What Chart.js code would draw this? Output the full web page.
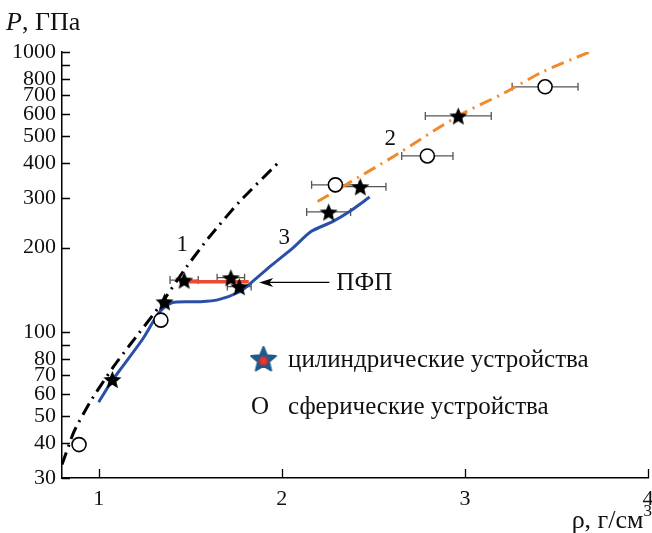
<!DOCTYPE html>
<html lang="ru">
<head>
<meta charset="UTF-8">
<title>P(ρ)</title>
<script src="https://cdn.jsdelivr.net/npm/chart.js"></script>
<style>
  html, body { margin: 0; padding: 0; background: #fff; }
  #wrap { width: 652px; height: 533px; }
</style>
</head>
<body>
<div id="wrap"><canvas id="chart" width="652" height="533"></canvas></div>
<script>
// кривая 1 (чёрная штрихпунктирная)
const curve1X = [0.8, 0.866, 0.948, 1.003, 1.085, 1.167, 1.331, 1.467, 1.604, 1.768, 1.986];
const curve1P = [33.5, 44, 55.3, 63, 75.6, 89.1, 123, 166, 218, 291, 405];
// кривая 2 (оранжевая штрихпунктирная)
const curve2X = [2.196, 2.332, 2.615, 2.964, 3.216, 3.423, 3.68];
const curve2P = [292, 330, 425, 591, 714, 848, 1000];
// кривая 3 (синяя)
const curve3X = [1.0, 1.075, 1.24, 1.33, 1.40, 1.55, 1.65, 1.77, 1.84, 1.95, 2.06, 2.16, 2.28, 2.37, 2.48];
const curve3P = [56, 67, 94, 117, 127, 128, 130, 139, 151, 174, 199, 228, 248, 269, 303];
// ПФП
const pfpX = [1.44, 1.82];
const pfpP = [151, 151];
// цилиндрические устройства
const starX = [1.075, 1.36, 1.467, 1.722, 1.768, 2.256, 2.429, 2.964];
const starP = [67.5, 128, 153, 156, 145, 268, 330, 591];
const starErr = [0, 0, 0.077, 0.075, 0.065, 0.12, 0.14, 0.18];
// сферические устройства
const circX = [0.893, 1.34, 2.293, 2.795, 3.438];
const circP = [39.5, 110, 335, 425, 751];
const circErr = [0, 0, 0.13, 0.14, 0.18];
// оси
const xTicks = [1, 2, 3, 4];
const yTicks = [30, 40, 50, 60, 70, 80, 90, 100, 200, 300, 400, 500, 600, 700, 800, 900, 1000];
const yHidden = [90, 900];

const FONT = '"Liberation Serif", "Times New Roman", serif';

function pts(xs, ps) { return xs.map((v, i) => ({ x: v, y: ps[i] })); }

function makeStar(size, fill, center) {
    const c = document.createElement('canvas');
    c.width = size; c.height = size;
    const g = c.getContext('2d');
    const R = size / 2 - 1, r = R * 0.45, m = size / 2;
    g.beginPath();
    for (let i = 0; i < 10; i++) {
        const a = -Math.PI / 2 + i * Math.PI / 5;
        const rad = i % 2 === 0 ? R : r;
        g.lineTo(m + rad * Math.cos(a), m + 1 + rad * Math.sin(a));
    }
    g.closePath();
    g.fillStyle = fill;
    g.lineJoin = 'round';
    if (center) { g.strokeStyle = fill; g.lineWidth = 2; g.stroke(); }
    g.fill();
    if (center) {
        const gr = g.createRadialGradient(m, m + 2, 0, m, m + 2, 6);
        gr.addColorStop(0, '#ff3b30');
        gr.addColorStop(0.5, '#e8302a');
        gr.addColorStop(1, 'rgba(200,40,60,0)');
        g.fillStyle = gr;
        g.beginPath(); g.arc(m, m + 2, 6, 0, Math.PI * 2); g.fill();
    }
    return c;
}
const blackStar = makeStar(21, '#000');
const legendStar = makeStar(28, '#1d5b8a', true);

const errorBars = {
    id: 'errorBars',
    beforeDatasetsDraw(chart) {
        const { ctx, scales: { x, y } } = chart;
        ctx.save();
        ctx.strokeStyle = '#555';
        ctx.lineWidth = 1.3;
        const draw = (xs, ps, es) => {
            xs.forEach((v, i) => {
                if (!es[i]) return;
                const x0 = x.getPixelForValue(v - es[i]);
                const x1 = x.getPixelForValue(v + es[i]);
                const py = y.getPixelForValue(ps[i]);
                ctx.beginPath();
                ctx.moveTo(x0, py); ctx.lineTo(x1, py);
                ctx.moveTo(x0, py - 4); ctx.lineTo(x0, py + 4);
                ctx.moveTo(x1, py - 4); ctx.lineTo(x1, py + 4);
                ctx.stroke();
            });
        };
        draw(starX, starP, starErr);
        draw(circX, circP, circErr);
        ctx.restore();
    }
};

const annotations = {
    id: 'annotations',
    afterDraw(chart) {
        const { ctx, chartArea: a, scales: { x, y } } = chart;
        ctx.save();
        // засечки внутрь
        ctx.strokeStyle = '#000';
        ctx.lineWidth = 1.3;
        ctx.beginPath();
        yTicks.forEach(v => {
            const py = Math.round(y.getPixelForValue(v)) + 0.5;
            ctx.moveTo(a.left, py); ctx.lineTo(a.left + 8, py);
        });
        xTicks.forEach(v => {
            const px = Math.round(x.getPixelForValue(v)) + 0.5;
            ctx.moveTo(px, a.bottom); ctx.lineTo(px, a.bottom - 9);
        });
        ctx.stroke();

        ctx.fillStyle = '#111';
        ctx.textBaseline = 'alphabetic';
        // подпись оси Y
        ctx.textAlign = 'left';
        ctx.font = 'italic 26px ' + FONT;
        ctx.fillText('P', 6, 30);
        const wP = ctx.measureText('P').width;
        ctx.font = '26px ' + FONT;
        ctx.fillText(', ГПа', 6 + wP, 30);
        // подпись оси X
        ctx.font = '17px ' + FONT;
        const w3 = ctx.measureText('3').width;
        ctx.fillText('3', 652 - w3, 516);
        ctx.font = '26px ' + FONT;
        ctx.textAlign = 'right';
        ctx.fillText('ρ, г/см', 652 - w3, 528);

        // номера кривых
        ctx.font = '23px ' + FONT;
        ctx.textAlign = 'center';
        ctx.textBaseline = 'middle';
        ctx.fillText('1', x.getPixelForValue(1.456), y.getPixelForValue(204));
        ctx.fillText('2', x.getPixelForValue(2.593), y.getPixelForValue(490));
        ctx.fillText('3', x.getPixelForValue(2.013), y.getPixelForValue(216));

        // ПФП со стрелкой
        const ay = y.getPixelForValue(150);
        const ax0 = x.getPixelForValue(1.877), ax1 = x.getPixelForValue(2.26);
        ctx.strokeStyle = '#000';
        ctx.lineWidth = 1.2;
        ctx.beginPath(); ctx.moveTo(ax0 + 8, ay); ctx.lineTo(ax1, ay); ctx.stroke();
        ctx.fillStyle = '#000';
        ctx.beginPath();
        ctx.moveTo(ax0, ay); ctx.lineTo(ax0 + 14, ay - 4.5); ctx.lineTo(ax0 + 10, ay); ctx.lineTo(ax0 + 14, ay + 4.5);
        ctx.closePath(); ctx.fill();
        ctx.fillStyle = '#111';
        ctx.textAlign = 'left';
        ctx.font = '25px ' + FONT;
        ctx.fillText('ПФП', ax1 + 7, ay + 1);

        // легенда
        ctx.drawImage(legendStar, a.left + 201.5 - 14, a.top + 308 - 15);
        ctx.fillText('цилиндрические устройства', a.left + 226, a.top + 308);
        ctx.textAlign = 'center';
        ctx.fillText('O', a.left + 198, a.top + 355);
        ctx.textAlign = 'left';
        ctx.fillText('сферические устройства', a.left + 226, a.top + 355);
        ctx.restore();
    }
};

new Chart(document.getElementById('chart'), {
    type: 'scatter',
    data: {
        datasets: [
            {
                data: pts(curve1X, curve1P), showLine: true, pointRadius: 0,
                borderColor: '#000', borderWidth: 3, borderDash: [13, 6, 2, 6], tension: 0.2, order: 5
            },
            {
                data: pts(curve2X, curve2P), showLine: true, pointRadius: 0,
                borderColor: '#f18a2c', borderWidth: 3, borderDash: [13, 6, 2, 6], tension: 0.3, order: 5
            },
            {
                data: pts(curve3X, curve3P), showLine: true, pointRadius: 0,
                borderColor: '#2a4fa8', borderWidth: 3, tension: 0.25, order: 4
            },
            {
                data: pts(pfpX, pfpP), showLine: true, pointRadius: 0,
                borderColor: '#ec4a33', borderWidth: 3.5, order: 3
            },
            {
                data: pts(circX, circP), pointStyle: 'circle', pointRadius: 7,
                backgroundColor: '#fff', borderColor: '#000', borderWidth: 1.6, order: 2
            },
            {
                data: pts(starX, starP), pointStyle: blackStar, order: 1
            }
        ]
    },
    options: {
        responsive: false,
        animation: false,
        events: [],
        layout: { autoPadding: false, padding: { top: 52, right: 4, left: 0, bottom: 0 } },
        plugins: { legend: { display: false }, tooltip: { enabled: false } },
        scales: {
            x: {
                type: 'linear', min: 0.8, max: 4,
                afterBuildTicks: s => { s.ticks = xTicks.map(v => ({ value: v })); },
                afterFit: s => { s.height = 55; s.paddingLeft = 0; s.paddingRight = 0; },
                grid: { display: false, drawTicks: false },
                border: { display: true, color: '#000', width: 1.5 },
                ticks: { font: { family: FONT, size: 22 }, color: '#111', padding: 8, maxRotation: 0 }
            },
            y: {
                type: 'logarithmic', min: 30, max: 1000,
                afterBuildTicks: s => { s.ticks = yTicks.map(v => ({ value: v })); },
                afterFit: s => { s.width = 62; s.paddingTop = 0; s.paddingBottom = 0; },
                grid: { display: false, drawTicks: false },
                border: { display: true, color: '#000', width: 1.5 },
                ticks: {
                    font: { family: FONT, size: 22 }, color: '#111', padding: 6, autoSkip: false,
                    callback: v => yHidden.includes(v) ? '' : String(v)
                }
            }
        }
    },
    plugins: [errorBars, annotations]
});
</script>
</body>
</html>
